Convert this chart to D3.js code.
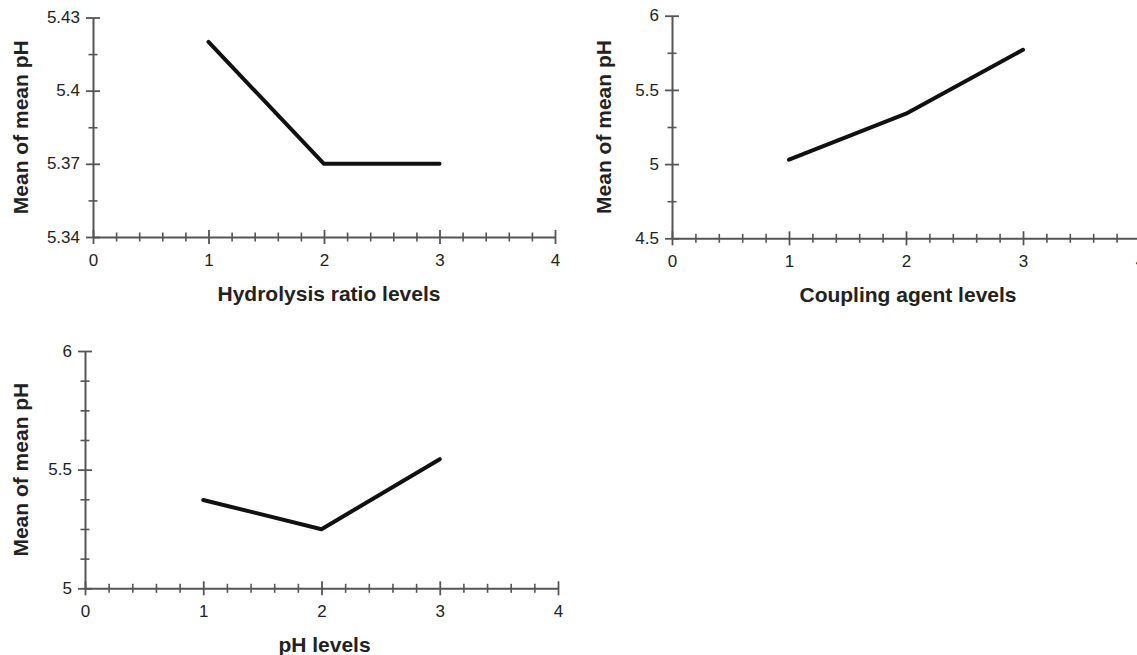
<!DOCTYPE html>
<html>
<head>
<meta charset="utf-8">
<script src="https://cdn.jsdelivr.net/npm/d3@7"></script>
<style>
  html, body { margin: 0; padding: 0; background: #fff; }
  svg { display: block; font-family: "Liberation Sans", Arial, Helvetica, sans-serif; }
</style>
</head>
<body>
<svg id="chart" width="1137" height="655"></svg>
<script>
// ---- data ----
const levels = [1, 2, 3];
const hydrolysisMeans = [5.42, 5.37, 5.37];
const couplingMeans = [5.03, 5.34, 5.77];
const phMeans = [5.372, 5.249, 5.544];

const xMajorTicks = [0, 1, 2, 3, 4];
const xMinorTicks = [0.2, 0.4, 0.6, 0.8, 1.2, 1.4, 1.6, 1.8, 2.2, 2.4, 2.6, 2.8, 3.2, 3.4, 3.6, 3.8];

const hydrolysisYMajor = [5.34, 5.37, 5.40, 5.43];
const hydrolysisYLabels = ["5.34", "5.37", "5.4", "5.43"];
const hydrolysisYMinor = [5.355, 5.385, 5.415];

const couplingYMajor = [4.5, 5, 5.5, 6];
const couplingYLabels = ["4.5", "5", "5.5", "6"];
const couplingYMinor = [4.75, 5.25, 5.75];

const phYMajor = [5, 5.5, 6];
const phYLabels = ["5", "5.5", "6"];
const phYMinor = [5.125, 5.25, 5.375, 5.625, 5.75, 5.875];

const xTitles = ["Hydrolysis ratio levels", "Coupling agent levels", "pH levels"];
const yTitle = "Mean of mean pH";

// ---- layout (positions only) ----
const panels = [
  { values: hydrolysisMeans, yDomain: [5.34, 5.43], yMajor: hydrolysisYMajor, yLabels: hydrolysisYLabels, yMinor: hydrolysisYMinor,
    xTitle: xTitles[0], x0: 93, x1: 555, yBottom: 237, yTop: 17.5, yTitleX: 28, xTitleDx: 5 },
  { values: couplingMeans, yDomain: [4.5, 6], yMajor: couplingYMajor, yLabels: couplingYLabels, yMinor: couplingYMinor,
    xTitle: xTitles[1], x0: 672, x1: 1140, yBottom: 238.3, yTop: 15.7, yTitleX: 611, xTitleDx: 2 },
  { values: phMeans, yDomain: [5, 6], yMajor: phYMajor, yLabels: phYLabels, yMinor: phYMinor,
    xTitle: xTitles[2], x0: 85, x1: 558, yBottom: 588.3, yTop: 351, yTitleX: 28, xTitleDx: 3 }
];

const svg = d3.select("#chart");
const axisColor = "#555";
const textColor = "#222";

function drawPanel(p) {
  const x = d3.scaleLinear().domain([0, 4]).range([p.x0, p.x1]);
  const y = d3.scaleLinear().domain(p.yDomain).range([p.yBottom, p.yTop]);
  const g = svg.append("g");

  // x minor ticks
  const xMin = g.append("g").attr("transform", `translate(0,${p.yBottom})`)
    .call(d3.axisBottom(x).tickValues(xMinorTicks).tickFormat("").tickSizeOuter(0));
  xMin.select(".domain").remove();
  xMin.selectAll(".tick line").attr("y1", -4.5).attr("y2", 4.5)
    .attr("stroke", axisColor).attr("stroke-width", 1.6);

  // x major ticks + domain
  const xMaj = g.append("g").attr("transform", `translate(0,${p.yBottom})`)
    .call(d3.axisBottom(x).tickValues(xMajorTicks).tickFormat(d3.format("d")).tickSizeOuter(0));
  xMaj.select(".domain").attr("stroke", axisColor).attr("stroke-width", 2);
  xMaj.selectAll(".tick line").attr("y1", -7).attr("y2", 7)
    .attr("stroke", axisColor).attr("stroke-width", 1.8);
  xMaj.selectAll(".tick text").attr("y", 29).attr("dy", 0)
    .attr("font-size", 17).attr("fill", textColor)
    .attr("font-family", "Liberation Sans, Arial, sans-serif");

  // y minor ticks
  const yMin = g.append("g").attr("transform", `translate(${p.x0},0)`)
    .call(d3.axisLeft(y).tickValues(p.yMinor).tickFormat("").tickSizeOuter(0));
  yMin.select(".domain").remove();
  yMin.selectAll(".tick line").attr("x1", -4.5).attr("x2", 4.5)
    .attr("stroke", axisColor).attr("stroke-width", 1.6);

  // y major ticks + domain
  const yMaj = g.append("g").attr("transform", `translate(${p.x0},0)`)
    .call(d3.axisLeft(y).tickValues(p.yMajor).tickFormat((d, i) => p.yLabels[i]).tickSizeOuter(0));
  yMaj.select(".domain").attr("stroke", axisColor).attr("stroke-width", 2);
  yMaj.selectAll(".tick line").attr("x1", -7).attr("x2", 7)
    .attr("stroke", axisColor).attr("stroke-width", 1.8);
  yMaj.selectAll(".tick text").attr("x", -13).attr("dy", "0.3em")
    .attr("font-size", 17).attr("fill", textColor)
    .attr("font-family", "Liberation Sans, Arial, sans-serif");

  // data line
  const line = d3.line().x((d, i) => x(levels[i])).y(d => y(d));
  g.append("path").datum(p.values)
    .attr("d", line)
    .attr("fill", "none")
    .attr("stroke", "#111")
    .attr("stroke-width", 4)
    .attr("stroke-linecap", "round")
    .attr("stroke-linejoin", "round");

  // x title
  g.append("text")
    .attr("x", (p.x0 + p.x1) / 2 + p.xTitleDx)
    .attr("y", p.yBottom + 64)
    .attr("text-anchor", "middle")
    .attr("font-size", 21).attr("font-weight", "bold").attr("fill", textColor)
    .text(p.xTitle);

  // y title
  const cy = (p.yBottom + p.yTop) / 2;
  g.append("text")
    .attr("transform", `translate(${p.yTitleX},${cy}) rotate(-90)`)
    .attr("text-anchor", "middle")
    .attr("font-size", 21).attr("font-weight", "bold").attr("fill", textColor)
    .text(yTitle);
}

panels.forEach(drawPanel);
</script>
</body>
</html>
